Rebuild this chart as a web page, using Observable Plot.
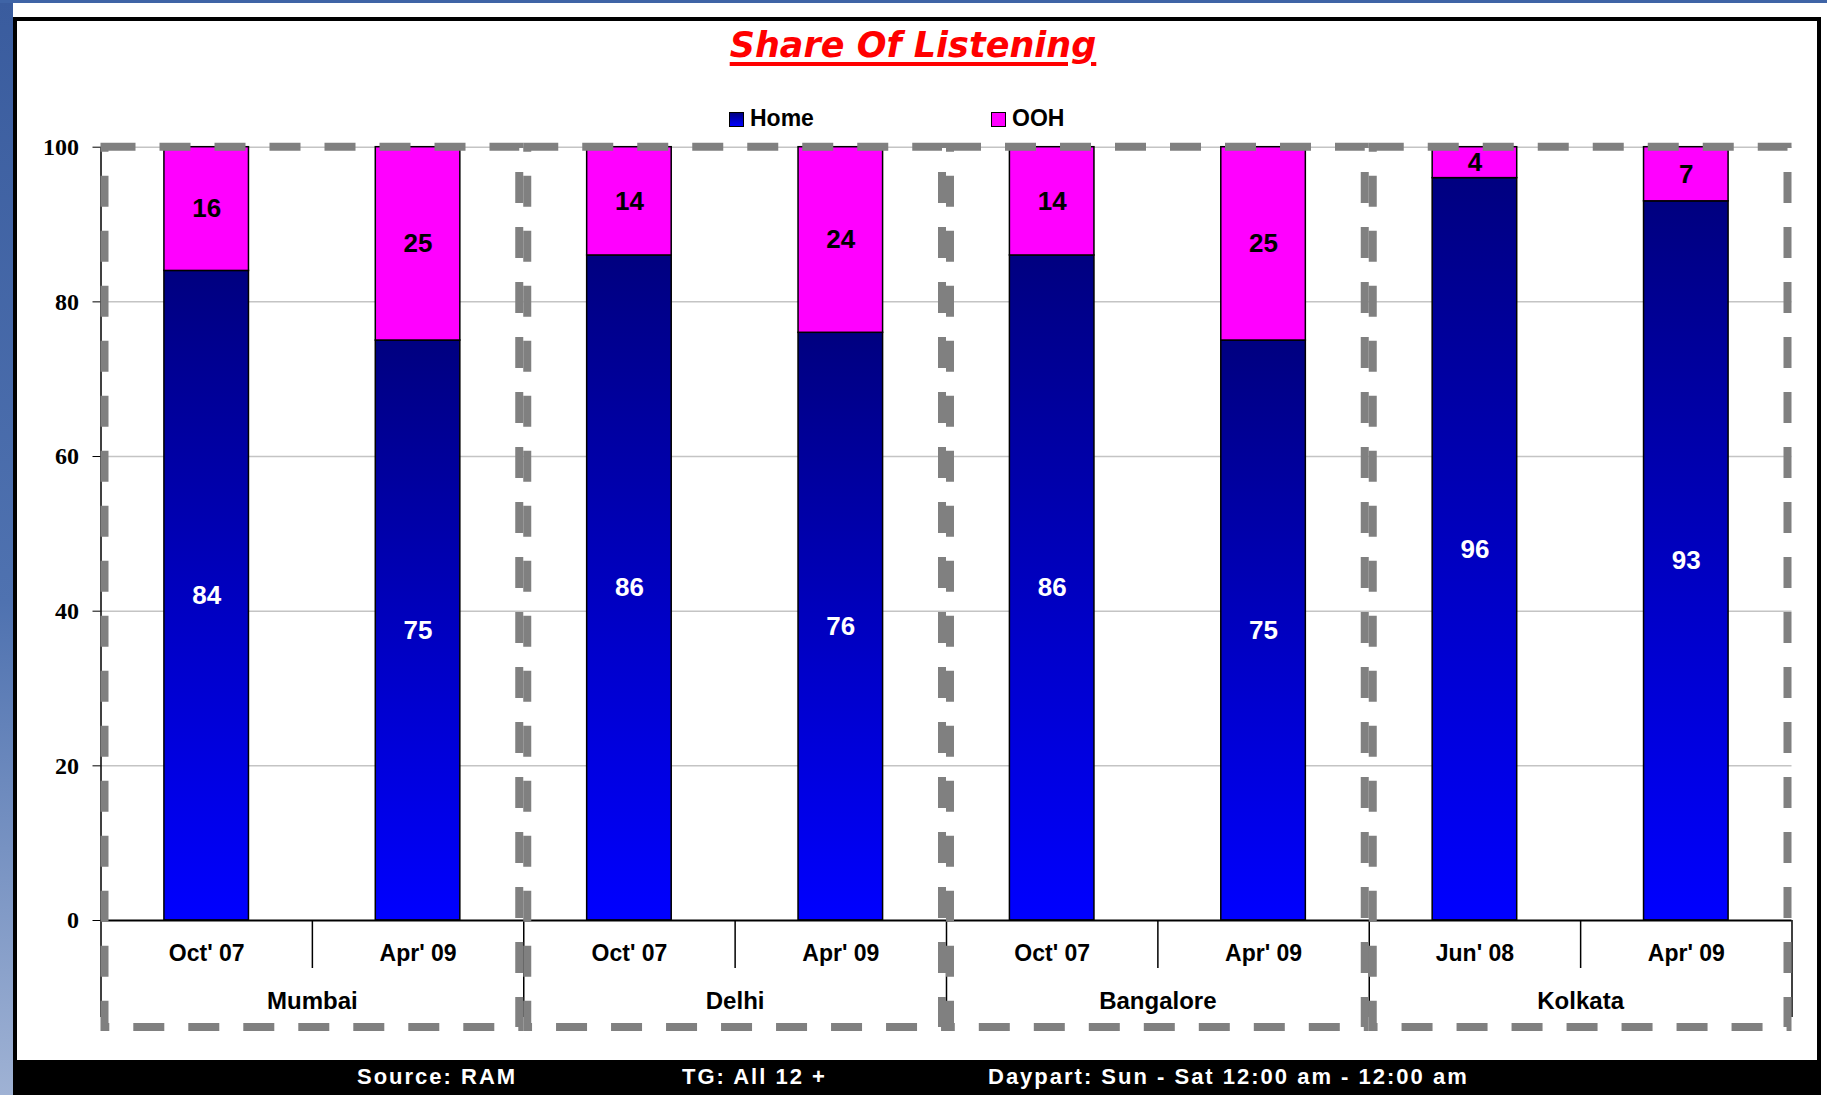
<!DOCTYPE html>
<html>
<head>
<meta charset="utf-8">
<script src="https://cdn.jsdelivr.net/npm/d3@7"></script>
<script src="https://cdn.jsdelivr.net/npm/@observablehq/plot@0.6"></script>
<style>
  html, body { margin: 0; padding: 0; overflow: hidden; width: 1827px; height: 1095px; background: #ffffff; }
  body { position: relative; font-family: "Liberation Sans", Arial, sans-serif; }
  #stripL { position: absolute; left: 0; top: 0; width: 13px; height: 1095px; background: linear-gradient(#3a5c9e, #4f72b0 55%, #9fb2d4); }
  #stripT { position: absolute; left: 0; top: 0; width: 1827px; height: 3px; background: #3f64a6; }
  #panel { position: absolute; left: 13px; top: 17px; width: 1800px; height: 1078px; border: 4px solid #000; border-bottom: none; background: #fff; }
  #chart { position: absolute; left: 0; top: 0; }
  #title { position: absolute; left: 0; top: 28px; width: 1826px; text-align: center; font-family: "DejaVu Sans", Verdana, sans-serif; font-style: italic; font-weight: bold; font-size: 35px; line-height: 35px; color: #ff0000; }
  #title span { text-decoration: underline; text-decoration-thickness: 4px; text-underline-offset: 5px; }
  .sw { position: absolute; width: 13px; height: 13px; border: 1px solid #000; }
  .lt { position: absolute; font-weight: bold; font-size: 23px; line-height: 23px; color: #000; }
  #footer { position: absolute; left: 13px; top: 1060px; width: 1808px; height: 35px; background: #000; }
  .ft { position: absolute; top: 1066px; color: #fff; font-weight: bold; font-size: 22px; line-height: 22px; letter-spacing: 2px; white-space: pre; }
</style>
</head>
<body>
<div id="stripL"></div>
<div id="stripT"></div>
<div id="panel"></div>
<div id="footer"></div>
<div id="chart"></div>
<div id="title"><span>Share Of Listening</span></div>
<div id="legend"></div>
<div id="foot"></div>
<script>
// ---- data ----
const cities = ["Mumbai", "Delhi", "Bangalore", "Kolkata"];
const barCities = ["Mumbai", "Mumbai", "Delhi", "Delhi", "Bangalore", "Bangalore", "Kolkata", "Kolkata"];
const periods = ["Oct' 07", "Apr' 09", "Oct' 07", "Apr' 09", "Oct' 07", "Apr' 09", "Jun' 08", "Apr' 09"];
const home = [84, 75, 86, 76, 86, 75, 96, 93];
const ooh = [16, 25, 14, 24, 14, 25, 4, 7];
const series = ["Home", "OOH"];
const yTicks = [0, 20, 40, 60, 80, 100];
const footerTexts = ["Source: RAM", "TG: All 12 +", "Daypart: Sun - Sat 12:00 am - 12:00 am"];

// ---- table built from the arrays ----
const rows = periods.map((p, i) => ({ i, city: barCities[i], period: p, home: home[i], ooh: ooh[i] }));
const nBars = rows.length;
const perCity = nBars / cities.length;
const barInset = 0.3;

const homeFill = "url(#homegrad)";
const oohFill = "#ff00ff";

const chart = Plot.plot({
  width: 1827,
  height: 1060,
  marginLeft: 100.5,
  marginRight: 35.5,
  marginTop: 146.7,
  marginBottom: 140,
  style: { background: "transparent", overflow: "visible", fontFamily: "'Liberation Sans', Arial, sans-serif", color: "#000" },
  x: { domain: [0, nBars], axis: null },
  y: { domain: [0, 100], axis: null },
  marks: [
    Plot.ruleY(yTicks.filter(t => t > 0), { stroke: "#c4c4c4", strokeWidth: 1.5 }),
    Plot.rect(rows, { x1: d => d.i + barInset, x2: d => d.i + 1 - barInset, y1: () => 0, y2: "home", fill: homeFill, stroke: "#000", strokeWidth: 1.5 }),
    Plot.rect(rows, { x1: d => d.i + barInset, x2: d => d.i + 1 - barInset, y1: "home", y2: d => d.home + d.ooh, fill: oohFill, stroke: "#000", strokeWidth: 1.5 }),
    Plot.ruleY([0], { stroke: "#000", strokeWidth: 2 }),
    Plot.ruleX([0], { stroke: "#000", strokeWidth: 1.5 }),
    // within-city separators
    Plot.ruleX(cities, { x: (d, k) => k * perCity + 1, y1: () => 0, insetBottom: -48, stroke: "#000", strokeWidth: 1.5 }),
    // city boundaries
    Plot.ruleX(d3.range(0, nBars + 1, perCity), { y1: () => 0, insetBottom: -97, stroke: "#000", strokeWidth: 1.5 }),
    Plot.axisY(yTicks, { tickSize: 8, tickPadding: 14, fontSize: 24, fontWeight: "bold", fontFamily: "'Liberation Serif', 'Times New Roman', serif", label: null, stroke: "#000" }),
    // dashed boxes round each city
    Plot.rect(cities, { x1: (d, k) => k * perCity, x2: (d, k) => (k + 1) * perCity, fill: "none", stroke: "#808080", strokeWidth: 8, strokeDasharray: "31 24", insetLeft: 4, insetRight: 4, insetBottom: -107 }),
    // value labels
    Plot.text(rows, { x: d => d.i + 0.5, y: d => d.home / 2, text: d => String(d.home), fill: "#fff", fontSize: 26, fontWeight: "bold" }),
    Plot.text(rows, { x: d => d.i + 0.5, y: d => d.home + d.ooh / 2, text: d => String(d.ooh), fill: "#000", fontSize: 26, fontWeight: "bold" }),
    // period labels
    Plot.text(rows, { x: d => d.i + 0.5, text: "period", frameAnchor: "bottom", lineAnchor: "middle", dy: 33, fontSize: 23, fontWeight: "bold", fill: "#000", ariaLabel: "period-labels" }),
    // city labels
    Plot.text(cities, { x: (d, k) => k * perCity + perCity / 2, text: d => d, frameAnchor: "bottom", lineAnchor: "middle", dy: 81, fontSize: 24, fontWeight: "bold", fill: "#000", ariaLabel: "city-labels" })
  ]
});

const svgNS = "http://www.w3.org/2000/svg";
const defs = document.createElementNS(svgNS, "defs");
defs.innerHTML = '<linearGradient id="homegrad" x1="0" y1="0" x2="0" y2="1"><stop offset="0" stop-color="#000080"/><stop offset="1" stop-color="#0000ff"/></linearGradient>';
chart.insertBefore(defs, chart.firstChild);
d3.select(chart).selectAll('g[aria-label="period-labels"] text').attr("letter-spacing", "1px");
d3.select(chart).selectAll('g[aria-label="city-labels"] text').attr("letter-spacing", "2px");
document.getElementById("chart").appendChild(chart);

// legend
const legend = document.getElementById("legend");
const legendPos = [{ sx: 729, tx: 750 }, { sx: 991, tx: 1012 }];
series.forEach((s, k) => {
  const sw = document.createElement("div");
  sw.className = "sw";
  sw.style.left = legendPos[k].sx + "px";
  sw.style.top = "112px";
  sw.style.background = k === 0 ? "linear-gradient(#000080, #0000ff)" : oohFill;
  legend.appendChild(sw);
  const t = document.createElement("div");
  t.className = "lt";
  t.style.left = legendPos[k].tx + "px";
  t.style.top = "107px";
  t.textContent = s;
  legend.appendChild(t);
});

// footer
const foot = document.getElementById("foot");
const footX = [357, 682, 988];
footerTexts.forEach((s, k) => {
  const t = document.createElement("div");
  t.className = "ft";
  t.style.left = footX[k] + "px";
  t.textContent = s;
  foot.appendChild(t);
});
</script>
</body>
</html>
